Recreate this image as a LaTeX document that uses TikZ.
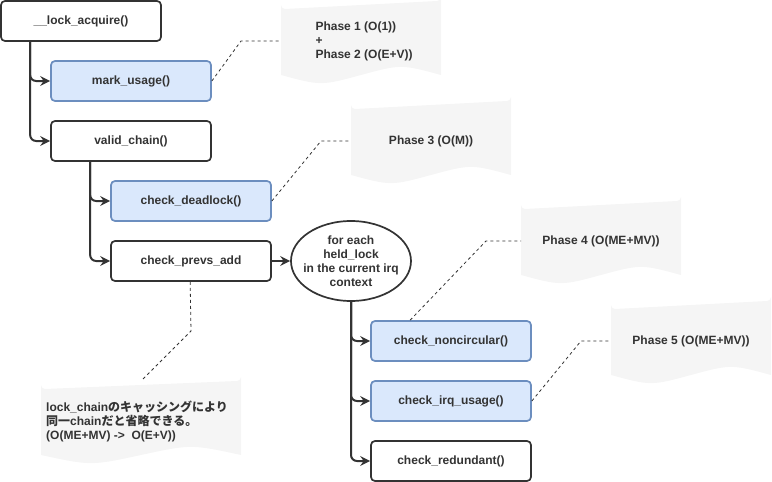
\documentclass[tikz,border=0pt]{standalone}
\usepackage{fontspec}
\setmainfont{Liberation Sans}
\newfontfamily\cjk{Noto Sans CJK JP}
\usetikzlibrary{arrows.meta,shapes.geometric}
\definecolor{ink}{HTML}{333333}
\definecolor{bluefill}{HTML}{DAE8FC}
\definecolor{bluedraw}{HTML}{6C8EBF}
\definecolor{notefill}{HTML}{F5F5F5}
\tikzset{
  fn/.style={draw=ink,line width=1.7pt,rounded corners=4pt,minimum width=160pt,minimum height=40pt,
    inner sep=0pt,font=\fontsize{12pt}{14pt}\selectfont\bfseries,text=ink,fill=white},
  fnblue/.style={fn,fill=bluefill,draw=bluedraw},
  flow/.style={draw=ink,line width=2pt,rounded corners=6pt,-{Stealth[length=10pt,width=10pt,inset=3.5pt]}},
  link/.style={draw=ink,line width=0.8pt,dash pattern=on 3pt off 3pt},
  notetext/.style={font=\fontsize{12pt}{14pt}\selectfont\bfseries,text=ink,align=left}
}
\newcommand{\docshape}[4]{% x y w h
  \fill[notefill] (#1,#2+#4-6) -- (#1,#2+4) arc[start angle=180,end angle=90,radius=4] -- (#1+#3-4,#2)
   arc[start angle=90,end angle=0,radius=4] -- (#1+#3,#2+#4-6)
   .. controls (#1+0.75*#3,#2+#4-16.8) .. (#1+0.5*#3,#2+#4-6)
   .. controls (#1+0.25*#3,#2+#4+4.8) .. cycle;}
\begin{document}
\begin{tikzpicture}[x=1pt,y=-1pt]
\useasboundingbox (0,0) rectangle (772,482);
% notes
\docshape{281}{1}{160}{80}
\docshape{351}{101}{160}{80}
\docshape{521}{201}{160}{80}
\docshape{611}{301}{160}{80}
\docshape{41}{381}{200}{80}
\node[notetext,anchor=west] (n1) at (312,41) {Phase 1 (O(1))\\+\\Phase 2 (O(E+V))};
\node[notetext] (n2) at (431,141) {Phase 3 (O(M))};
\node[notetext] (n3) at (601,241) {Phase 4 (O(ME+MV))};
\node[notetext] (n4) at (691,341) {Phase 5 (O(ME+MV))};
\node[notetext,anchor=west,inner sep=0pt] (n5) at (46,421) {lock\_chain{\cjk のキャッシングにより}\\{\cjk 同一}chain{\cjk だと省略できる。}\\(O(ME+MV) ->\ \ O(E+V))};
\coordinate (n1w) at (281,41);
\coordinate (n2w) at (351,141);
\coordinate (n3w) at (521,241);
\coordinate (n4w) at (611,341);
\coordinate (n5t) at (141,381);
% function boxes
\node[fn] (la) at (81,21) {\_\_lock\_acquire()};
\node[fnblue] (mu) at (131,81) {mark\_usage()};
\node[fn] (vc) at (131,141) {valid\_chain()};
\node[fnblue] (cd) at (191,201) {check\_deadlock()};
\node[fn] (cp) at (191,261) {check\_prevs\_add};
\node[draw=ink,line width=1.7pt,ellipse,minimum width=120pt,minimum height=80pt,inner xsep=-20pt,inner ysep=-4pt,
  font=\fontsize{12pt}{14pt}\selectfont\bfseries,text=ink,align=center] (el) at (351,261)
  {for each\\held\_lock\\in the current irq\\context};
\node[fnblue] (nc) at (451,341) {check\_noncircular()};
\node[fnblue] (iu) at (451,401) {check\_irq\_usage()};
\node[fn] (rd) at (451,461) {check\_redundant()};
% flow connectors
\draw[flow] ([xshift=30pt]la.south west) |- (mu.west);
\draw[flow] ([xshift=30pt]la.south west) |- (vc.west);
\draw[flow] ([xshift=40pt]vc.south west) |- (cd.west);
\draw[flow] ([xshift=40pt]vc.south west) |- (cp.west);
\draw[flow] (cp.east) -- (el.west);
\draw[flow] (el.south) |- (nc.west);
\draw[flow] (el.south) |- (iu.west);
\draw[flow] (el.south) |- (rd.west);
% dashed links
\draw[link] (mu.east) -- (241,41) -- (n1w);
\draw[link] (cd.east) -- (321,141) -- (n2w);
\draw[link] ([xshift=40pt]nc.north west) -- (486,241) -- (n3w);
\draw[link] (iu.east) -- (581,341) -- (n4w);
\draw[link] ([xshift=80pt]cp.south west) -- (191,331) -- (n5t);
\end{tikzpicture}
\end{document}
